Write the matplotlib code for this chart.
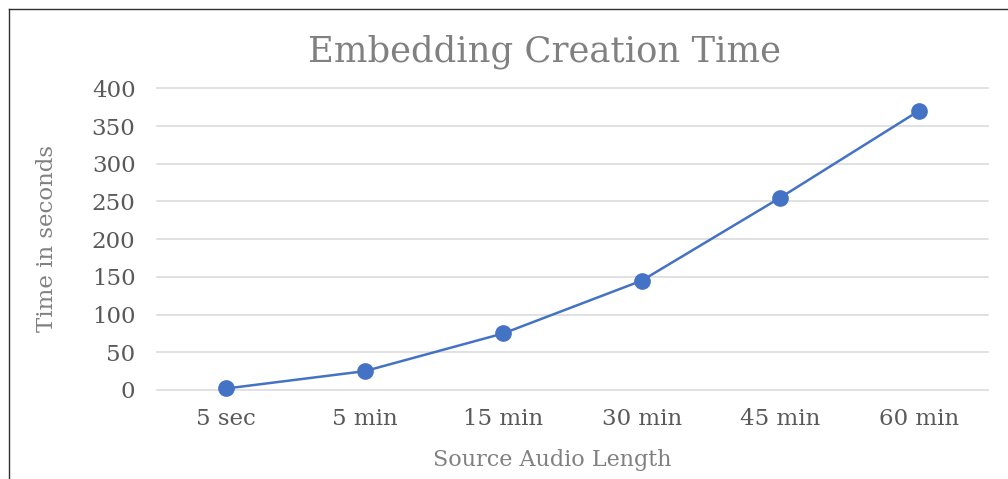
import matplotlib
matplotlib.use("Agg")
import matplotlib.pyplot as plt
from matplotlib.lines import Line2D

categories = ["5 sec", "5 min", "15 min", "30 min", "45 min", "60 min"]
times = [2, 25, 75, 145, 255, 370]
y_ticks = [0, 50, 100, 150, 200, 250, 300, 350, 400]

plt.rcParams["font.family"] = ["DejaVu Serif"]

W, H = 1008, 479
fig = plt.figure(figsize=(W / 100, H / 100), dpi=100)
ax = fig.add_axes([157 / W, 1 - 390 / H, (988 - 157) / W, (390 - 88.3) / H])

x = list(range(len(categories)))
ax.plot(x, times, color="#4472C4", lw=1.8, marker="o", ms=11,
        markerfacecolor="#4472C4", markeredgecolor="#4472C4", zorder=3,
        clip_on=False)

ax.set_xlim(-0.5, len(categories) - 0.5)
ax.set_ylim(0, 400)
ax.set_yticks(y_ticks)
ax.set_xticks(x)
ax.set_xticklabels(categories)
ax.grid(axis="y", color="#D9D9D9", lw=1.1)
for gl in ax.get_ygridlines():
    gl.set_clip_on(False)
ax.set_axisbelow(True)
for s in ax.spines.values():
    s.set_visible(False)
ax.tick_params(axis="both", length=0, labelsize=16.5, colors="#595959")
ax.tick_params(axis="y", pad=15.5)
ax.tick_params(axis="x", pad=13)

fig.text(545 / W, 1 - 52 / H, "Embedding Creation Time", ha="center", va="center",
         fontsize=25.5, color="#808080")
fig.text(47 / W, 1 - 239 / H, "Time in seconds", ha="center", va="center",
         rotation=90, fontsize=16.5, color="#808080")
fig.text(552 / W, 1 - 460 / H, "Source Audio Length", ha="center", va="center",
         fontsize=16, color="#808080")

# outer frame (top and left edges)
fig.add_artist(Line2D([9 / W, 1], [1 - 9 / H, 1 - 9 / H], color="#303030", lw=1.0))
fig.add_artist(Line2D([9 / W, 9 / W], [0, 1 - 9 / H], color="#303030", lw=1.0))

fig.savefig("out.png", dpi=100)
